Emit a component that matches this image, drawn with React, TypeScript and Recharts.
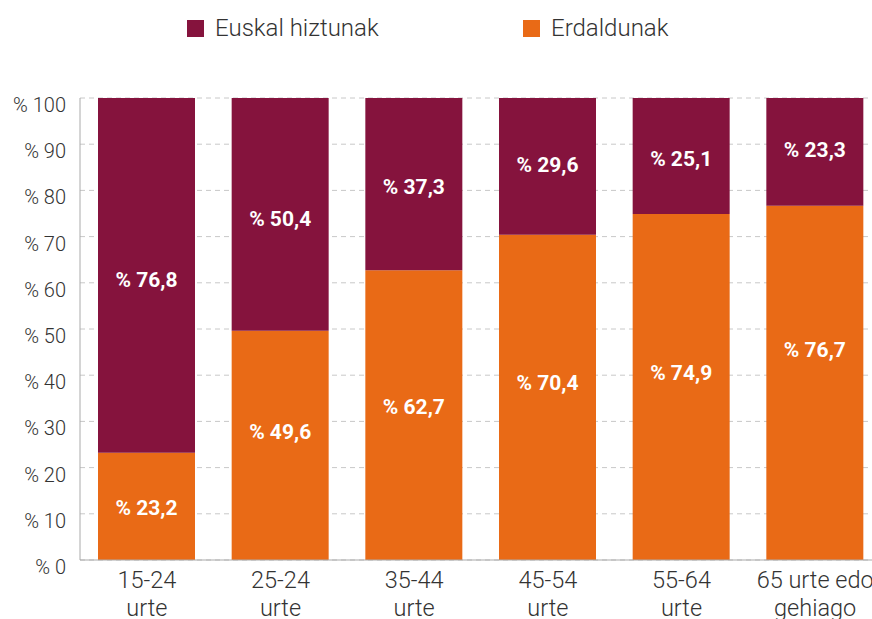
import { BarChart, Bar, XAxis, YAxis, CartesianGrid, LabelList } from "recharts";

const categories = ["15-24\nurte", "25-24\nurte", "35-44\nurte", "45-54\nurte", "55-64\nurte", "65 urte edo\ngehiago"];
const euskalHiztunak = [76.8, 50.4, 37.3, 29.6, 25.1, 23.3];
const erdaldunak = [23.2, 49.6, 62.7, 70.4, 74.9, 76.7];
const yTicks = [0, 10, 20, 30, 40, 50, 60, 70, 80, 90, 100];

// hand placed label nudges (px) as in the original
const euskalNudge = [5, 5, 3, -1, 3, -2];
const erdalNudge = [2, -13, -8, -14, -14, -33];

const MAROON = "#85133d";
const ORANGE = "#e96a16";
const TEXT = "#333333";
const FONT = "Roboto, sans-serif";

const data = categories.map((name, i) => ({
  name,
  euskal: euskalHiztunak[i],
  erdal: erdaldunak[i],
}));

const pct = (v: any) => `% ${Number(v).toFixed(1).replace(".", ",")}`;

function YTick({ x, y, payload }: any) {
  return (
    <text x={x} y={y + 14} textAnchor="end" fill={TEXT} fontFamily={FONT} fontWeight={300} fontSize={20}>
      {`% ${payload.value}`}
    </text>
  );
}

function XTick({ x, y, payload }: any) {
  const lines = String(payload.value).split("\n");
  return (
    <text x={x} y={y} textAnchor="middle" fill={TEXT} fontFamily={FONT} fontWeight={300} fontSize={23.5}>
      {lines.map((l, i) => (
        <tspan key={i} x={x} y={y + 28 + i * 28}>
          {l}
        </tspan>
      ))}
    </text>
  );
}

const makeLabel = (nudge: number[]) => (props: any) => {
  const { x, y, width, height, value, index } = props;
  return (
    <text
      x={x + width / 2}
      y={y + height / 2 + (nudge[index] || 0)}
      textAnchor="middle"
      dominantBaseline="central"
      fill="#fff"
      fontFamily={FONT}
      fontWeight={700}
      fontSize={21}
    >
      {pct(value)}
    </text>
  );
};

const legendItems = [
  { label: "Euskal hiztunak", color: MAROON, left: 187 },
  { label: "Erdaldunak", color: ORANGE, left: 523 },
];

export default function App() {
  return (
    <div style={{ position: "absolute", left: 0, top: 0, width: 872, height: 619, overflow: "hidden", background: "#fff" }}>
      {legendItems.map((it) => (
        <div
          key={it.label}
          style={{ position: "absolute", left: it.left, top: 13, height: 30, display: "flex", alignItems: "center", fontFamily: FONT, fontWeight: 300, fontSize: 24, color: TEXT }}
        >
          <span style={{ width: 17, height: 17, background: it.color, marginRight: 11, display: "inline-block" }} />
          {it.label}
        </div>
      ))}
      <BarChart width={882} height={619} data={data} margin={{ top: 98, right: 0, bottom: 9, left: 0 }}>
        <CartesianGrid vertical={false} stroke="#c8c8c8" strokeDasharray="5 4" />
        <XAxis dataKey="name" height={50} axisLine={{ stroke: "#aaaaaa" }} tickLine={false} tickSize={0} tickMargin={0} tick={<XTick />} interval={0} />
        <YAxis width={80} domain={[0, 100]} ticks={yTicks} axisLine={{ stroke: "#aaaaaa" }} tickLine={false} tickSize={0} tickMargin={14} tick={<YTick />} interval={0} />
        <Bar dataKey="erdal" stackId="a" fill={ORANGE} barSize={97} isAnimationActive={false}>
          <LabelList dataKey="erdal" content={makeLabel(erdalNudge)} />
        </Bar>
        <Bar dataKey="euskal" stackId="a" fill={MAROON} barSize={97} isAnimationActive={false}>
          <LabelList dataKey="euskal" content={makeLabel(euskalNudge)} />
        </Bar>
      </BarChart>
    </div>
  );
}
